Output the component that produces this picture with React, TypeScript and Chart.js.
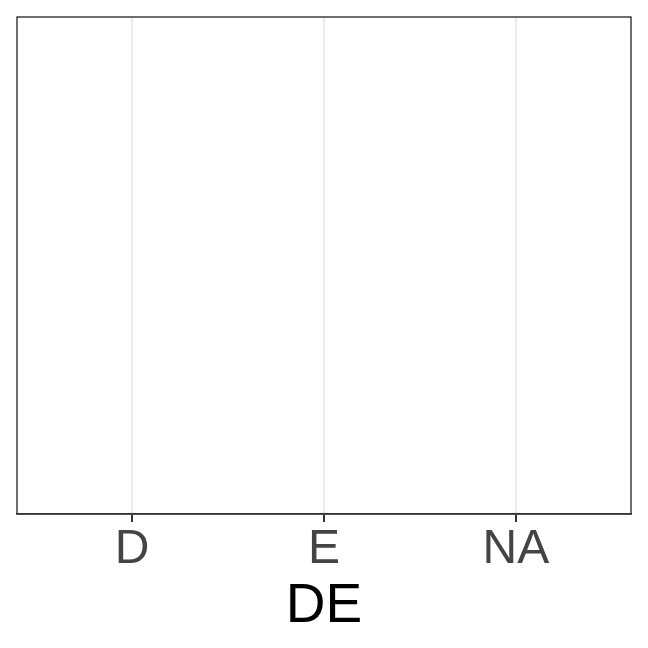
import React, { useEffect, useRef } from "react";
import { Chart, registerables } from "chart.js";

Chart.register(...registerables);

const categories: string[] = ["D", "E", "NA"];
const values: (number | null)[] = [null, null, null];
const xTitle = "DE";

const panelBorder = {
  id: "panelBorder",
  afterDraw(chart: any) {
    const { ctx, chartArea } = chart;
    ctx.save();
    ctx.strokeStyle = "#333333";
    ctx.lineWidth = 1.4;
    ctx.strokeRect(chartArea.left, chartArea.top, chartArea.right - chartArea.left, chartArea.bottom - chartArea.top);
    ctx.restore();
  },
};

export default function App() {
  const ref = useRef<HTMLCanvasElement | null>(null);
  useEffect(() => {
    if (!ref.current) return;
    const chart = new Chart(ref.current, {
      type: "scatter",
      data: {
        datasets: [
          {
            data: values
              .map((v, i) => ({ x: i + 1, y: v }))
              .filter((p) => p.y !== null) as any,
            pointRadius: 3,
            backgroundColor: "#000",
          },
        ],
      },
      options: {
        responsive: false,
        animation: false,
        layout: { padding: { left: 17, right: 17, top: 17, bottom: 0 } },
        plugins: { legend: { display: false }, tooltip: { enabled: false } },
        scales: {
          x: {
            type: "linear",
            min: 0.4,
            max: 3.6,
            afterBuildTicks: (scale: any) => {
              scale.ticks = categories.map((_, i) => ({ value: i + 1 }));
            },
            afterFit: (scale: any) => {
              scale.height = 134;
            },
            ticks: {
              autoSkip: false,
              maxRotation: 0,
              padding: -1,
              color: "#444444",
              font: { family: "Liberation Sans", size: 48 },
              callback: (v: any) => categories[Number(v) - 1] ?? "",
            },
            grid: {
              color: "#EBEBEB",
              lineWidth: 2,
              tickLength: 8,
              tickColor: "#333333",
              tickWidth: 2,
            },
            border: { display: true, color: "#333333", width: 1.4 },
            title: {
              display: true,
              text: xTitle,
              color: "#000000",
              font: { family: "Liberation Sans", size: 55 },
              padding: { top: 0, bottom: 8 },
            },
          },
          y: {
            display: false,
            min: 0,
            max: 1,
          },
        },
      },
      plugins: [panelBorder],
    });
    return () => chart.destroy();
  }, []);
  return (
    <div style={{ position: "fixed", left: 0, top: 0, width: 648, height: 648, background: "#fff" }}>
      <canvas ref={ref} width={648} height={648} />
    </div>
  );
}
